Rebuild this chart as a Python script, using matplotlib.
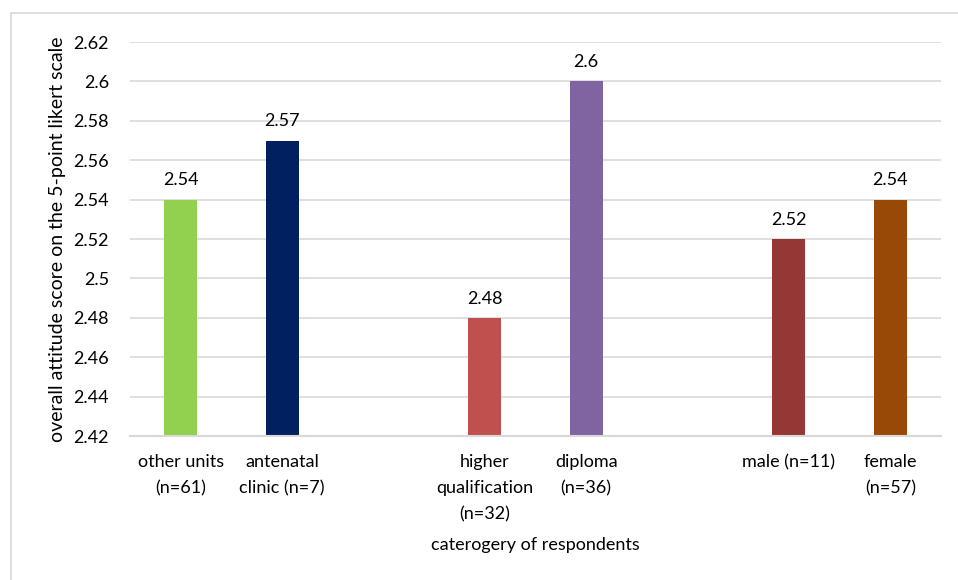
import matplotlib
matplotlib.use("Agg")
import matplotlib.pyplot as plt
from matplotlib.lines import Line2D

plt.rcParams['font.family'] = ['Lato', 'DejaVu Sans']

# Respondent groups (blank entries separate the three groupings)
categories = ["other units\n(n=61)", "antenatal\nclinic (n=7)", "",
              "higher\nqualification\n(n=32)", "diploma\n(n=36)", "",
              "male (n=11)", "female\n(n=57)"]
scores = [2.54, 2.57, None, 2.48, 2.60, None, 2.52, 2.54]
score_labels = ["2.54", "2.57", "", "2.48", "2.6", "", "2.52", "2.54"]
colors = ["#92D050", "#002060", None, "#C0504D", "#8064A2", None, "#953735", "#984807"]
yticks = [2.42, 2.44, 2.46, 2.48, 2.50, 2.52, 2.54, 2.56, 2.58, 2.60, 2.62]
ytick_labels = ["2.42", "2.44", "2.46", "2.48", "2.5", "2.52", "2.54", "2.56", "2.58", "2.6", "2.62"]

FS = 13
W, H = 958, 580
fig = plt.figure(figsize=(W / 100, H / 100), dpi=100)
ax = fig.add_axes([130 / W, 1 - 436 / H, (941 - 130) / W, (436 - 42) / H])

ymin, ymax = 2.42, 2.62
for i, (v, c, lab) in enumerate(zip(scores, colors, score_labels)):
    if v is None:
        continue
    ax.bar(i, v - ymin, bottom=ymin, width=0.325, color=c, zorder=3)
    ax.annotate(lab, (i, v), xytext=(0, 8), textcoords="offset points",
                ha="center", va="bottom", fontsize=FS, color="#000000")

ax.set_xlim(-0.5, len(categories) - 0.5)
ax.set_ylim(ymin, ymax)
ax.set_yticks(yticks)
ax.set_yticklabels(ytick_labels, fontsize=FS)
ax.set_xticks(range(len(categories)))
ax.set_xticklabels(categories, fontsize=FS, linespacing=1.78, va="top")
ax.tick_params(axis="both", length=0)
ax.tick_params(axis="y", pad=15)
ax.tick_params(axis="x", pad=13)

ax.grid(axis="y", color="#D9D9D9", linewidth=1.2, zorder=0)
for s in ["top", "right", "left"]:
    ax.spines[s].set_visible(False)
ax.spines["bottom"].set_color("#D9D9D9")
ax.spines["bottom"].set_linewidth(1.5)
ax.spines["bottom"].set_zorder(4)

fig.text(535.5 / W, 1 - 545 / H, "caterogery of respondents", ha="center", va="center", fontsize=FS)
fig.text(58 / W, 1 - 239 / H, "overall attitude score on the 5-point likert scale",
         ha="center", va="center", rotation=90, fontsize=14)

# Frame of the chart area
fig.add_artist(Line2D([10.5 / W, 10.5 / W], [0, 1 - 12.5 / H], transform=fig.transFigure,
                      color="#D9D9D9", linewidth=1.2))
fig.add_artist(Line2D([10.5 / W, 1], [1 - 12.5 / H, 1 - 12.5 / H], transform=fig.transFigure,
                      color="#D9D9D9", linewidth=1.2))

fig.savefig("out.png", dpi=100)
